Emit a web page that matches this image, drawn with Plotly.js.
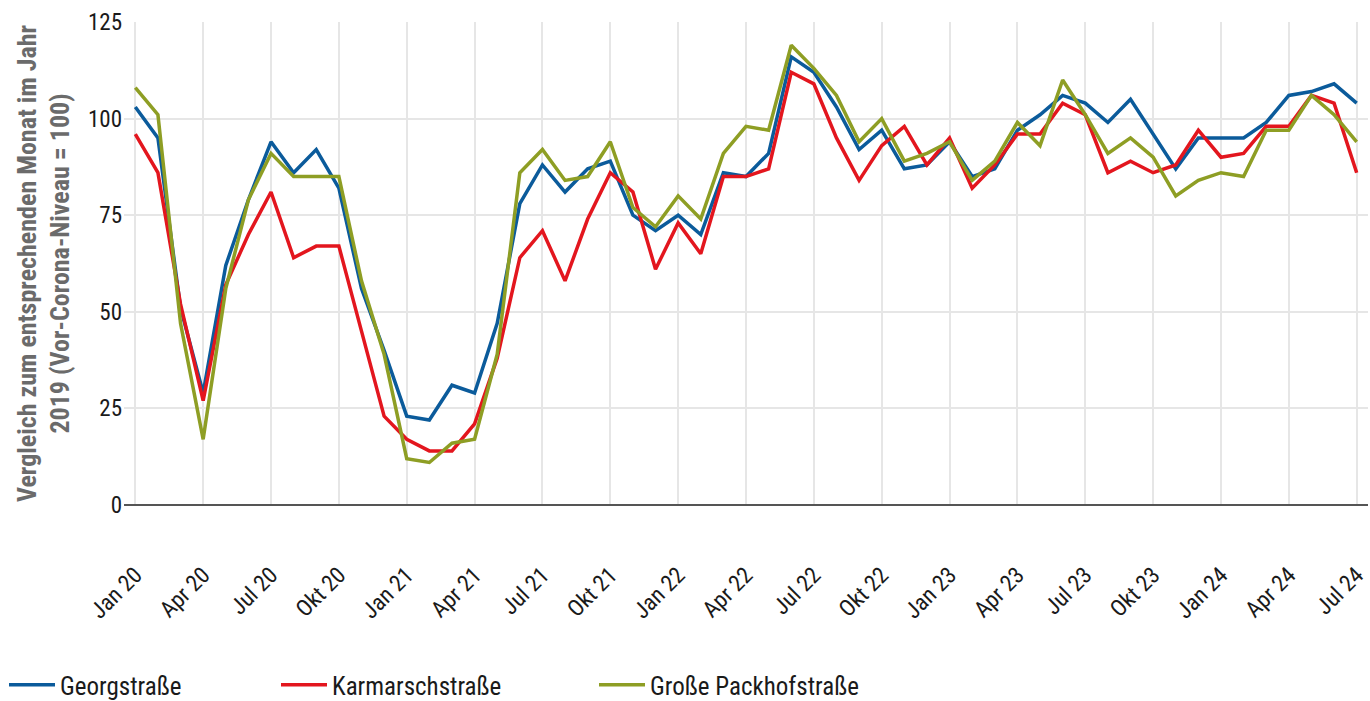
<!DOCTYPE html>
<html>
<head>
<meta charset="utf-8">
<script src="https://cdn.plot.ly/plotly-3.0.1.min.js"></script>
<style>
  html, body { margin: 0; padding: 0; background: #fff; }
  #chart { width: 1370px; height: 701px; }
</style>
</head>
<body>
<div id="chart"></div>
<script>
const monthNames = ["Jan", "Feb", "Mär", "Apr", "Mai", "Jun", "Jul", "Aug", "Sep", "Okt", "Nov", "Dez"];
const years = ["20", "21", "22", "23", "24"];
const lastMonthCount = 7; // 2024 ends in Jul

const categories = [];
years.forEach(function (y, yi) {
  const n = (yi === years.length - 1) ? lastMonthCount : 12;
  for (let m = 0; m < n; m++) categories.push(monthNames[m] + " " + y);
});

const tickLabels = ["Jan 20", "Apr 20", "Jul 20", "Okt 20", "Jan 21", "Apr 21", "Jul 21", "Okt 21",
  "Jan 22", "Apr 22", "Jul 22", "Okt 22", "Jan 23", "Apr 23", "Jul 23", "Okt 23", "Jan 24", "Apr 24", "Jul 24"];

const georgstrasse = [103, 95, 51, 29, 62, 79, 94, 86, 92, 82,
  56, 40, 23, 22, 31, 29, 47, 78, 88, 81,
  87, 89, 75, 71, 75, 70, 86, 85, 91, 116,
  112, 103, 92, 97, 87, 88, 94, 85, 87, 97,
  101, 106, 104, 99, 105, 96, 87, 95, 95, 95,
  99, 106, 107, 109, 104];

const karmarschstrasse = [96, 86, 52, 27, 57, 70, 81, 64, 67, 67,
  45, 23, 17, 14, 14, 21, 38, 64, 71, 58,
  74, 86, 81, 61, 73, 65, 85, 85, 87, 112,
  109, 95, 84, 93, 98, 88, 95, 82, 88, 96,
  96, 104, 101, 86, 89, 86, 88, 97, 90, 91,
  98, 98, 106, 104, 86];

const grossePackhofstrasse = [108, 101, 47, 17, 56, 79, 91, 85, 85, 85,
  58, 39, 12, 11, 16, 17, 39, 86, 92, 84,
  85, 94, 77, 72, 80, 74, 91, 98, 97, 119,
  113, 106, 94, 100, 89, 91, 94, 84, 89, 99,
  93, 110, 101, 91, 95, 90, 80, 84, 86, 85,
  97, 97, 106, 101, 94];

const seriesNames = ["Georgstraße", "Karmarschstraße", "Große Packhofstraße"];
const seriesColors = ["#0b5b9b", "#e3161e", "#8e9e24"];
const seriesValues = [georgstrasse, karmarschstrasse, grossePackhofstrasse];
const legendIds = ["legend", "legend2", "legend3"];

const FONT = "'Roboto Condensed', 'Liberation Sans Narrow', 'Arial Narrow', Roboto, sans-serif";

const traces = seriesValues.map(function (vals, i) {
  return {
    type: "scatter",
    mode: "lines",
    name: seriesNames[i],
    legend: legendIds[i],
    x: categories,
    y: vals,
    line: { color: seriesColors[i], width: 3.5 }
  };
});

function legendAt(xpx) {
  return {
    orientation: "h",
    xref: "container",
    yref: "container",
    x: xpx / 1370,
    xanchor: "left",
    y: 16 / 701,
    yanchor: "middle",
    itemwidth: 46,
    bgcolor: "rgba(0,0,0,0)",
    font: { family: FONT, size: 25, color: "#1a1a1a" }
  };
}

const layout = {
  width: 1370,
  height: 701,
  margin: { l: 124, r: 2, t: 22, b: 196 },
  paper_bgcolor: "#ffffff",
  plot_bgcolor: "#ffffff",
  font: { family: FONT, size: 20, color: "#1a1a1a" },
  showlegend: true,
  legend: legendAt(4),
  legend2: legendAt(276),
  legend3: legendAt(594),
  xaxis: {
    type: "category",
    range: [-0.5, 54.5],
    automargin: false,
    tickmode: "array",
    tickvals: tickLabels,
    ticktext: tickLabels,
    tickangle: -45,
    ticks: "",
    ticklabelstandoff: 51,
    showgrid: true,
    gridcolor: "#e6e6e6",
    gridwidth: 2,
    zeroline: false,
    showline: false,
    tickfont: { family: FONT, size: 23, color: "#1a1a1a" }
  },
  yaxis: {
    range: [0, 125],
    automargin: false,
    tickmode: "array",
    tickvals: [0, 25, 50, 75, 100, 125],
    showgrid: true,
    gridcolor: "#e6e6e6",
    gridwidth: 2,
    zeroline: true,
    zerolinecolor: "#555555",
    zerolinewidth: 2,
    ticks: "",
    ticklabelstandoff: 1,
    tickfont: { family: FONT, size: 23, color: "#1a1a1a" },
    title: {
      text: "Vergleich zum entsprechenden Monat im Jahr<br>2019 (Vor-Corona-Niveau = 100)",
      font: { family: FONT, size: 26, color: "#6b6b6b", weight: "bold" },
      standoff: 10
    }
  }
};

Plotly.newPlot("chart", traces, layout, { displayModeBar: false, staticPlot: true });
</script>
</body>
</html>
